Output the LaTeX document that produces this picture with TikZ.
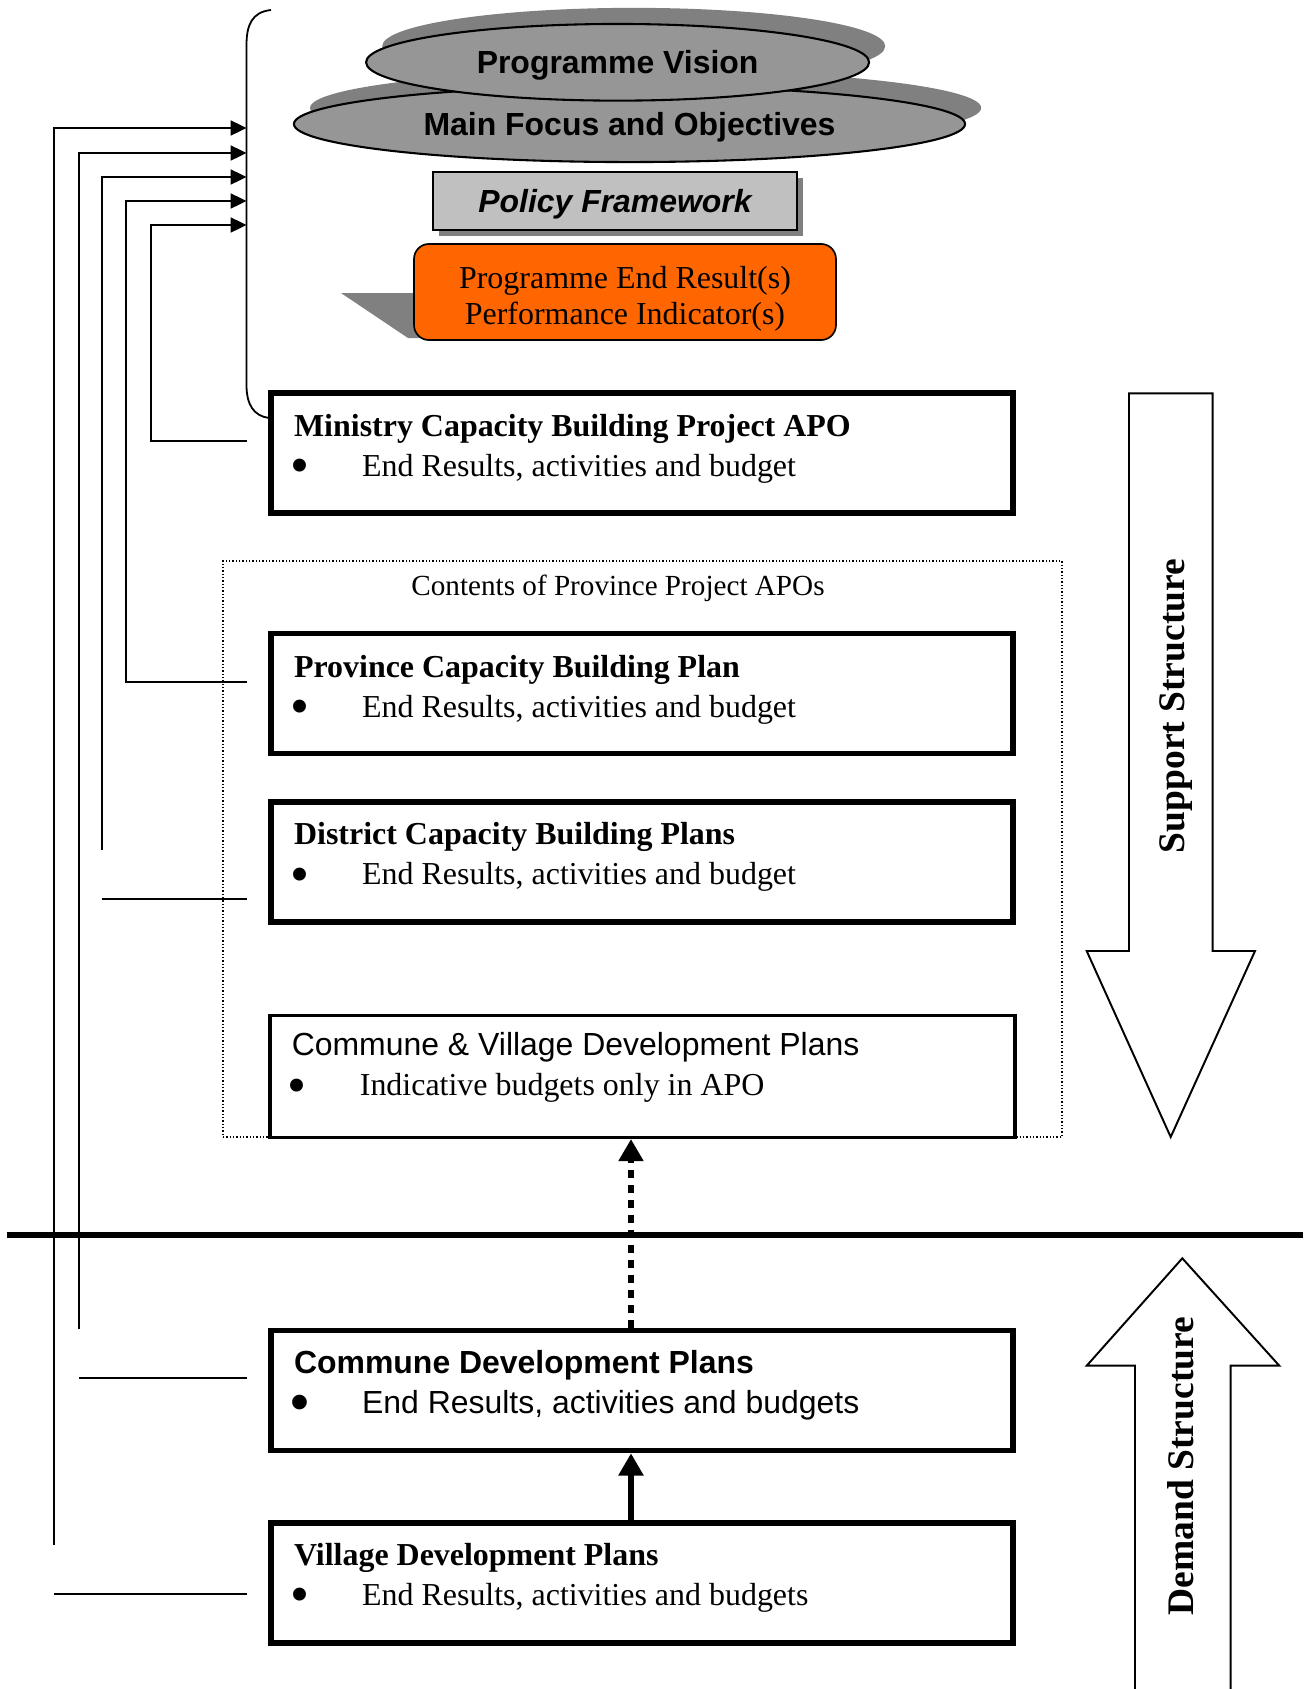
\documentclass[tikz,border=0pt]{standalone}
\usepackage{fontspec}
\setmainfont{Liberation Serif}
\setsansfont{Liberation Sans}
\usepackage{tikz}
\usetikzlibrary{arrows.meta}
\usetikzlibrary{shapes.geometric}
\usetikzlibrary{shadows}
\definecolor{ovalgray}{RGB}{150,150,150}
\definecolor{shadowgray}{RGB}{128,128,128}
\definecolor{policygray}{RGB}{192,192,192}
\definecolor{resultorange}{RGB}{255,102,0}
\newcommand\boxwidth{267pt}
\newcommand\boxheight{43.2pt}
\newcommand\bodyfont{\fontsize{11.5}{14.4}\selectfont}
\newcommand\itembul{\makebox[24.5pt][l]{\hspace{-1.4pt}\raisebox{-2.6pt}{\fontsize{19.5}{14}\selectfont\textbullet}}}
\newcommand\plantext[3][15.4pt]{\parbox[c][\boxheight][t]{250.5pt}{\raggedright\rule{0pt}{#1}#2\\ \itembul #3}}
\tikzset{
    planbox/.style = {draw, line width=2pt, minimum width=\boxwidth, minimum height=\boxheight, inner sep=0pt, font=\bodyfont},
    indicbox/.style = {planbox, line width=1.1pt, minimum width=268.2pt, minimum height=43.9pt},
    apobox/.style = {draw, line width=0.6pt, dash pattern=on 0.5pt off 0.7pt, minimum width=302pt, minimum height=207.4pt},
}
\tikzset{
    oval/.style = {ellipse, draw, line width=0.75pt, fill=ovalgray, inner sep=0pt, text depth=0pt, font=\sffamily\bfseries\bodyfont,
        drop shadow={shadow xshift=5.8pt, shadow yshift=5.8pt, fill=shadowgray, opacity=1}},
    policy/.style = {draw, line width=0.9pt, fill=policygray, minimum width=131pt, minimum height=20.9pt, inner sep=0pt, text depth=0pt, font=\sffamily\bfseries\itshape\bodyfont,
        drop shadow={shadow xshift=2.2pt, shadow yshift=-2.2pt, fill=shadowgray, opacity=1}},
    result/.style = {draw, line width=0.6pt, rounded corners=5.4pt, fill=resultorange, minimum width=151.9pt, minimum height=34.6pt, inner sep=0pt, font=\fontsize{11.5}{13}\selectfont},
    feed/.style = {line width=0.65pt, -{Triangle[length=5.7pt,width=5.4pt]}},
    stub/.style = {line width=0.65pt},
    upflow/.style = {line width=2.4pt, -{Triangle[length=8pt,width=8.6pt]}},
    divider/.style = {line width=2.4pt},
    bigarrow/.style = {draw, line width=0.7pt, fill=white},
    structure/.style = {rotate=90, font=\bfseries\fontsize{13.5}{16}\selectfont},
}
\begin{document}
\begin{tikzpicture}[x=0.36pt, y=-0.36pt]
\useasboundingbox (0,0) rectangle (1305,1689);
% programme level
\node[oval, minimum width=241.6pt, minimum height=27.4pt] (focus) at (629.5,124) {Main Focus and Objectives};
\node[oval, minimum width=181.1pt, minimum height=27.6pt] (vision) at (617.6,62.3) {Programme Vision};
\node[policy] (policy) at (615,201) {Policy Framework};
\fill[shadowgray] (341,293) -- (430,293) -- (430,338) -- (408,338) -- cycle;
\node[result] (result) at (625,292) {\parbox[c][34.6pt][t]{150pt}{\centering\rule{0pt}{15.9pt}Programme End Result(s)\\Performance Indicator(s)}};
\draw[line width=0.65pt] (271,10) .. controls (252,12) and (246.5,25) .. (246.5,45) -- (246.5,385) .. controls (246.5,405) and (254,416) .. (269,418);

% plans
\node[apobox] (apos) at (642.5,849) {};
\node[font=\fontsize{10.5}{12}\selectfont] (apos-title) at (618,588) {Contents of Province Project APOs};
\node[planbox] (mcb) at (642,453) {\plantext[15.5pt]{\textbf{Ministry Capacity Building Project APO}}{End Results, activities and budget}};
\node[planbox] (pcb) at (642,693.5) {\plantext[15.7pt]{\textbf{Province Capacity Building Plan}}{End Results, activities and budget}};
\node[planbox] (dcb) at (642,862) {\plantext{\textbf{District Capacity Building Plans}}{End Results, activities and budget}};
\node[indicbox] (cvdp) at (642.5,1076.5) {\parbox[c][43.9pt][t]{252.5pt}{\raggedright\rule{0pt}{14.5pt}{\sffamily Commune \& Village Development Plans}\\ \itembul Indicative budgets only in APO}};
\node[planbox, font=\sffamily\bodyfont] (cdp) at (642,1390.5) {\plantext[15.5pt]{\textbf{Commune Development Plans}}{End Results, activities and budgets}};
\node[planbox] (vdp) at (642,1583) {\plantext[15.2pt]{\textbf{Village Development Plans}}{End Results, activities and budgets}};

\coordinate (flow) at (631,0);
\coordinate (divl) at (6.5,1235);
\coordinate (divr) at (1303,1235);
\draw[divider] (divl) -- (divr);
\draw[upflow, dash pattern=on 2.7pt off 2.7pt] (cdp.north -| flow) -- (cvdp.south -| flow);
\draw[upflow] (vdp.north -| flow) -- (cdp.south -| flow);

% feedback lines
\coordinate (in1) at (246.5,128);
\coordinate (in2) at (246.5,153);
\coordinate (in3) at (246.5,177);
\coordinate (in4) at (246.5,201);
\coordinate (in5) at (246.5,225);
\coordinate (vdp-up) at (54,1545);
\coordinate (cdp-up) at (78.6,1329);
\coordinate (dcb-up) at (102,850);
\coordinate (pcb-col) at (126,0);
\coordinate (mcb-col) at (150.7,0);
\coordinate (pcb-out) at (247,682);
\coordinate (mcb-out) at (247,441);
\coordinate (vdp-in) at (247,1594);
\coordinate (cdp-in) at (247,1378);
\coordinate (dcb-in) at (247,899);
\draw[feed] (vdp-up) |- (in1);
\draw[feed] (cdp-up) |- (in2);
\draw[feed] (dcb-up) |- (in3);
\draw[feed] (pcb-out) -| (pcb-col |- in4) -- (in4);
\draw[feed] (mcb-out) -| (mcb-col |- in5) -- (in5);
\draw[stub] (vdp-in) -- (vdp-in -| vdp-up);
\draw[stub] (cdp-in) -- (cdp-in -| cdp-up);
\draw[stub] (dcb-in) -- (dcb-in -| dcb-up);

% structure arrows
\draw[bigarrow] (1129,393.4) -- (1212.7,393.4) -- (1212.7,951) -- (1255,951) -- (1170.7,1137) -- (1086.7,951) -- (1129,951) -- cycle;
\node[structure] (support) at (1176,706) {Support Structure};
\draw[bigarrow] (1135,1700) -- (1135,1365.7) -- (1086.7,1365.7) -- (1182.3,1258.3) -- (1279.3,1365.7) -- (1230.7,1365.7) -- (1230.7,1700);
\node[structure] (demand) at (1181,1466) {Demand Structure};
\end{tikzpicture}
\end{document}
